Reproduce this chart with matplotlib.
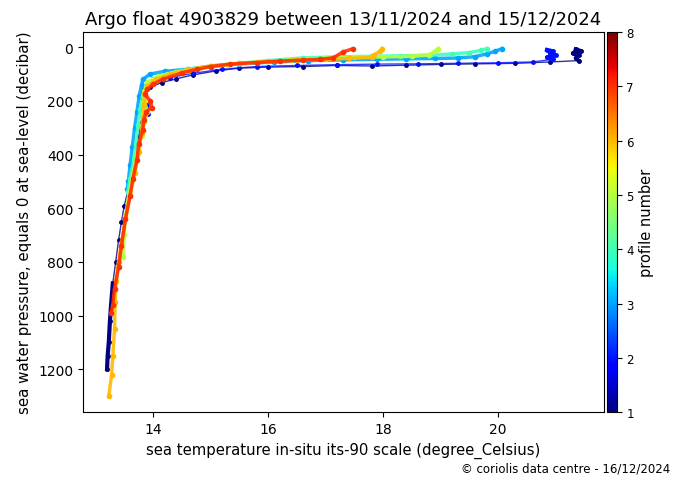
import numpy as np
import matplotlib
matplotlib.use("Agg")
import matplotlib.pyplot as plt
from matplotlib import cm, colors

# profile data: temperature (degC), pressure (dbar)
temp_p1 = [21.35, 21.45, 21.3, 21.4, 21.35, 21.4, 20.9, 20.3, 19.6, 19.0, 18.4, 17.8, 17.2, 16.6, 16.0,
           15.5, 15.1, 14.7, 14.4, 14.15, 13.95, 13.82, 13.8, 13.85, 13.88, 13.8, 13.75, 13.72, 13.65,
           13.58, 13.5, 13.45, 13.4, 13.35, 13.3, 13.27, 13.25, 13.23, 13.21, 13.2]
pres_p1 = [8, 15, 22, 30, 40, 50, 55, 60, 62, 64, 67, 70, 68, 72, 74,
           78, 88, 103, 118, 132, 148, 165, 190, 215, 240, 280, 330, 400, 460,
           520, 590, 650, 720, 800, 880, 960, 1020, 1100, 1150, 1200]

temp_p2 = [20.85, 20.95, 20.9, 21.0, 20.85, 20.95, 20.6, 20.0, 19.3, 18.6, 17.9, 17.2, 16.5, 15.8,
           15.2, 14.7, 14.3, 14.0, 13.85, 13.85, 13.9, 13.92]
pres_p2 = [10, 15, 22, 30, 38, 45, 55, 58, 60, 62, 63, 65, 68, 72,
           82, 97, 113, 132, 155, 185, 215, 250]

temp_p3 = [20.07, 19.95, 19.8, 19.6, 19.3, 18.9, 18.4, 17.9, 17.3, 16.7, 16.1, 15.5, 15.0, 14.6,
           14.2, 13.95, 13.82, 13.8, 13.76, 13.72, 13.68, 13.64, 13.6, 13.57, 13.55]
pres_p3 = [5, 15, 25, 35, 40, 42, 43, 45, 47, 50, 55, 62, 72, 82,
           90, 100, 120, 140, 180, 240, 300, 370, 440, 500, 530]

temp_p4 = [19.8, 19.7, 19.5, 19.2, 18.8, 18.3, 17.8, 17.2, 16.6, 16.0, 15.5, 15.0, 14.6, 14.25,
           14.0, 13.88, 13.82, 13.78, 13.74, 13.7, 13.66, 13.6, 13.56]
pres_p4 = [5, 12, 20, 25, 30, 32, 34, 36, 40, 50, 60, 70, 82, 100,
           120, 145, 180, 230, 290, 360, 430, 490, 540]

temp_p5 = [18.96, 18.9, 18.8, 18.5, 18.0, 17.5, 17.0, 16.4, 15.8, 15.3, 14.8, 14.4, 14.1, 13.9,
           13.85, 13.85, 13.9, 13.85, 13.8, 13.72, 13.65, 13.58, 13.52, 13.5, 13.48]
pres_p5 = [5, 15, 28, 34, 36, 38, 42, 48, 56, 65, 78, 92, 108, 130,
           165, 200, 240, 280, 330, 400, 470, 550, 630, 700, 780]

temp_p6 = [17.98, 17.95, 17.85, 17.8, 17.4, 17.0, 16.5, 16.0, 15.5, 15.0, 14.6, 14.3, 14.05, 13.9,
           13.85, 13.85, 13.82, 13.8, 13.75, 13.68, 13.6, 13.52, 13.45, 13.4, 13.36, 13.34, 13.33,
           13.3, 13.28, 13.23]
pres_p6 = [5, 15, 28, 38, 42, 45, 48, 53, 60, 70, 84, 100, 120, 145,
           175, 210, 260, 320, 390, 470, 550, 640, 730, 800, 870, 950, 1050,
           1150, 1220, 1300]

temp_p7 = [17.47, 17.3, 17.13, 16.9, 16.6, 16.2, 15.8, 15.34, 15.0, 14.77, 14.5, 14.17, 14.0, 13.9,
           13.86, 13.95, 13.98, 13.88, 13.84, 13.82, 13.75, 13.72, 13.65, 13.6, 13.52, 13.45, 13.4,
           13.33, 13.3, 13.27]
pres_p7 = [6, 18, 40, 45, 48, 52, 57, 63, 72, 82, 96, 119, 138, 156,
           175, 200, 225, 240, 270, 310, 360, 420, 490, 555, 640, 740, 820,
           900, 960, 990]

profiles = [(1, temp_p1, pres_p1), (2, temp_p2, pres_p2), (3, temp_p3, pres_p3),
            (4, temp_p4, pres_p4), (5, temp_p5, pres_p5), (6, temp_p6, pres_p6),
            (7, temp_p7, pres_p7)]

fig = plt.figure(figsize=(6.74, 4.81), dpi=100)
ax = fig.add_axes([0.123, 0.141, 0.773, 0.79])
cax = fig.add_axes([0.901, 0.141, 0.014, 0.79])

norm = colors.Normalize(vmin=1, vmax=8)
cmap = plt.get_cmap("jet")

for num, t, p in profiles:
    c = cmap(norm(num))
    t = np.array(t)
    p = np.array(p)
    if num <= 2:
        # sparse dots in the thermocline, dense (thick) trace at surface and depth
        ax.plot(t, p, '-', color=c, lw=1.0, alpha=0.8)
        ax.plot(t, p, 'o', color=c, ms=2.5)
        deep = p >= 850
        ax.plot(t[deep], p[deep], '-', color=c, lw=3)
        ax.plot(t[:6], p[:6], '-', color=c, lw=3)
    else:
        ax.plot(t, p, '-', color=c, lw=2.5, alpha=0.9)
        ax.plot(t, p, 'o', color=c, ms=3)

ax.set_xlim(12.78, 21.84)
ax.set_ylim(1360, -56)
ax.set_xticks([14, 16, 18, 20])
ax.set_yticks([0, 200, 400, 600, 800, 1000, 1200])
ax.set_xlabel("sea temperature in-situ its-90 scale (degree_Celsius)", fontsize=10.7)
ax.set_ylabel("sea water pressure, equals 0 at sea-level (decibar)", fontsize=10.8)
ax.set_title("Argo float 4903829 between 13/11/2024 and 15/12/2024", fontsize=13)

sm = cm.ScalarMappable(norm=norm, cmap=cmap)
cb = fig.colorbar(sm, cax=cax)
cb.set_ticks([1, 2, 3, 4, 5, 6, 7, 8])
cb.ax.tick_params(labelsize=8.5)
cb.set_label("profile number", fontsize=10.5)

fig.text(0.995, 0.012, "\u00a9 coriolis data centre - 16/12/2024", ha="right", va="bottom", fontsize=8.5)

fig.savefig("out.png", dpi=100)
